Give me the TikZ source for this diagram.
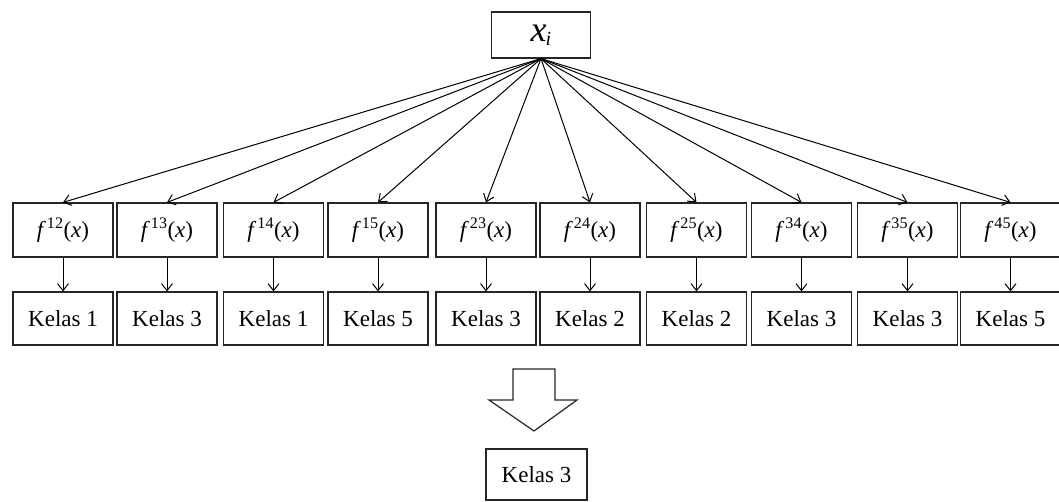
\documentclass[tikz,border=0pt]{standalone}
\usepackage{fontspec}
\setmainfont{Liberation Serif}
\usetikzlibrary{arrows.meta}
\tikzset{
  box/.style={draw=black!85, line width=1.2pt, minimum width=100pt, minimum height=54pt, inner sep=0pt, font=\fontsize{23}{25}\selectfont},
  arr/.style={draw=black, line width=1pt, -{Straight Barb[length=7pt,width=11pt]}},
}
\newcommand{\fx}[1]{\textit{f}\kern1pt\textsuperscript{#1}(\textit{x})}
\begin{document}
\begin{tikzpicture}[x=1pt,y=-1pt]
\useasboundingbox (0,0) rectangle (1059,502);
\node[box, minimum width=99pt, minimum height=46pt, font=\fontsize{36}{38}\selectfont] (xi) at (541,35) {\textit{x}\kern-1pt\raisebox{-4pt}{\fontsize{20}{22}\selectfont\textit{i}}};
\foreach \i/\cx/\s/\k in {1/63/12/1, 2/167/13/3, 3/273.5/14/1, 4/378/15/5, 5/486/23/3, 6/590/24/2, 7/696.5/25/2, 8/801.5/34/3, 9/907.5/35/3, 10/1010.5/45/5}{
  \node[box] (f\i) at (\cx,230) {\fx{\s}};
  \node[box, minimum height=53pt] (k\i) at (\cx,318.5) {Kelas \k};
  \draw[arr] (xi.south) -- (f\i.north);
  \draw[arr] (f\i.south) -- (k\i.north);
}
\draw[line width=1.2pt, black!85, fill=white] (513,369) -- (555,369) -- (555,400) -- (577,400) -- (534,431) -- (489,400) -- (513,400) -- cycle;
\node[box, minimum width=101pt, minimum height=51pt] (res) at (536.5,474.5) {Kelas 3};
\end{tikzpicture}
\end{document}
